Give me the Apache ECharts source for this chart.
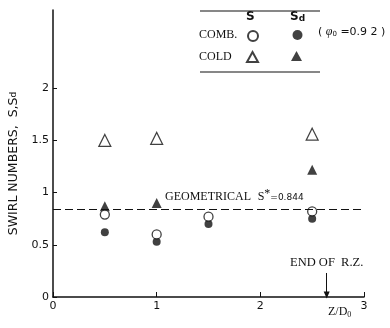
<!DOCTYPE html>
<html>
<head>
<meta charset="utf-8">
<script src="https://cdn.jsdelivr.net/npm/echarts@6/dist/echarts.min.js"></script>
<style>
  html, body { margin: 0; padding: 0; background: #fff; }
  #chart { width: 390px; height: 328px; }
</style>
</head>
<body>
<div id="chart"></div>
<script>
// Z/D0 stations
const zPositions = [0.5, 1, 1.5, 2.5];
const zColdPositions = [0.5, 1, 2.5];

// swirl numbers
const sComb = [0.79, 0.60, 0.77, 0.82];
const sdComb = [0.62, 0.53, 0.70, 0.75];
const sCold = [1.50, 1.52, 1.56];
const sdCold = [0.87, 0.90, 1.22];

const geometricalS = 0.844;
const endOfRZ = 2.64;

const yTicks = [0, 0.5, 1, 1.5, 2];

const pairs = (xs, ys) => xs.map((x, i) => [x, ys[i]]);

const chart = echarts.init(document.getElementById('chart'));

const serif = 'Liberation Serif';
const sans = 'DejaVu Sans';

const option = {
  animation: false,
  grid: { left: 53, right: 26, top: 10, bottom: 31, outerBoundsMode: 'none' },
  xAxis: {
    type: 'value',
    min: 0,
    max: 3,
    interval: 1,
    splitLine: { show: false },
    axisLine: { lineStyle: { color: '#111', width: 1.5 } },
    axisTick: { inside: true, length: 5, lineStyle: { color: '#111' } },
    axisLabel: { color: '#111', fontFamily: sans, fontSize: 11, margin: 4 }
  },
  yAxis: {
    type: 'value',
    min: 0,
    max: 2.75,
    splitLine: { show: false },
    axisLine: { lineStyle: { color: '#111', width: 1.5 } },
    axisTick: { inside: true, length: 4, customValues: yTicks, lineStyle: { color: '#111' } },
    axisLabel: { color: '#111', fontFamily: sans, fontSize: 11, margin: 4, customValues: yTicks },
    name: '{a|SWIRL NUMBERS,  S,S}{b|d}',
    nameLocation: 'middle',
    nameGap: 32,
    nameRotate: 90,
    nameTextStyle: {
      padding: [0, 20, 0, 0],
      rich: {
        a: { fontFamily: sans, fontSize: 12.5, color: '#111' },
        b: { fontFamily: sans, fontSize: 9, color: '#111' }
      }
    }
  },
  legend: [
    { data: ['S comb'], left: 247, top: 30 },
    { data: ['Sd comb'], left: 292, top: 30 },
    { data: ['S cold'], left: 246, top: 51 },
    { data: ['Sd cold'], left: 291, top: 51 }
  ].map(l => Object.assign(l, {
    formatter: () => '',
    itemWidth: 11,
    itemHeight: 10,
    itemGap: 0,
    padding: 0,
    selectedMode: false
  })),
  graphic: [
    { type: 'line', shape: { x1: 200, y1: 11, x2: 320, y2: 11 }, style: { stroke: '#111', lineWidth: 1.2 } },
    { type: 'line', shape: { x1: 200, y1: 72, x2: 320, y2: 72 }, style: { stroke: '#111', lineWidth: 1.2 } },
    { type: 'text', left: 246, top: 11, style: { text: 'S', font: 'bold 12px "DejaVu Sans"', fill: '#111' } },
    {
      type: 'text', left: 290, top: 11,
      style: {
        text: '{a|S}{b|d}',
        rich: {
          a: { font: 'bold 12px "DejaVu Sans"', fill: '#111' },
          b: { font: 'bold 9px "DejaVu Sans"', fill: '#111', padding: [3, 0, 0, 0] }
        }
      }
    },
    { type: 'text', left: 199, top: 29, style: { text: 'COMB.', font: '12px "Liberation Serif"', fill: '#111' } },
    { type: 'text', left: 199, top: 51, style: { text: 'COLD', font: '12px "Liberation Serif"', fill: '#111' } },
    {
      type: 'text', left: 318, top: 26,
      style: {
        text: '{a|( }{p|\u03c6}{s|0}{a| =0.9 2 )}',
        rich: {
          a: { font: '11px "DejaVu Sans"', fill: '#111' },
          p: { font: 'italic 12px "Liberation Serif"', fill: '#111' },
          s: { font: '7px "DejaVu Sans"', fill: '#111', padding: [4, 0, 0, 0] }
        }
      }
    },
    {
      type: 'text', left: 328, top: 306,
      style: {
        text: '{a|Z/D}{b|0}',
        rich: {
          a: { font: '12px "Liberation Serif"', fill: '#111' },
          b: { font: '8px "Liberation Serif"', fill: '#111', padding: [5, 0, 0, 0] }
        }
      }
    }
  ],
  series: [
    {
      name: 'S comb',
      type: 'scatter',
      symbol: 'circle',
      symbolSize: 9,
      itemStyle: { color: '#fff', borderColor: '#111', borderWidth: 1.3 },
      data: pairs(zPositions, sComb),
      z: 3,
      markLine: {
        silent: true,
        symbol: 'none',
        lineStyle: { color: '#111', type: [8, 4], width: 1.2 },
        label: {
          position: 'insideStartTop',
          distance: [112, 3],
          formatter: '{a|GEOMETRICAL}  {a|S}{s|*}{b|=0.844}',
          rich: {
            a: { fontFamily: serif, fontSize: 12, color: '#111' },
            s: { fontFamily: serif, fontSize: 12, color: '#111', verticalAlign: 'top', padding: [0, 0, 6, 0] },
            b: { fontFamily: sans, fontSize: 9, color: '#111' }
          }
        },
        data: [{ yAxis: geometricalS }]
      }
    },
    {
      name: 'Sd comb',
      type: 'scatter',
      symbol: 'circle',
      symbolSize: 8,
      itemStyle: { color: '#111' },
      data: pairs(zPositions, sdComb),
      z: 2,
      markLine: {
        silent: true,
        symbol: ['none', 'triangle'],
        symbolSize: [6, 7],
        symbolRotate: 180,
        lineStyle: { color: '#111', type: 'solid', width: 1 },
        label: {
          position: 'start',
          distance: 4,
          formatter: 'END OF  R.Z.',
          fontFamily: serif,
          fontSize: 12.5,
          color: '#111'
        },
        data: [[{ coord: [endOfRZ, 0.23] }, { coord: [endOfRZ, 0.02] }]]
      }
    },
    {
      name: 'S cold',
      type: 'scatter',
      symbol: 'triangle',
      symbolSize: 12,
      itemStyle: { color: '#fff', borderColor: '#111', borderWidth: 1.2 },
      data: pairs(zColdPositions, sCold)
    },
    {
      name: 'Sd cold',
      type: 'scatter',
      symbol: 'triangle',
      symbolSize: 10,
      itemStyle: { color: '#111' },
      data: pairs(zColdPositions, sdCold)
    }
  ]
};

chart.setOption(option);
</script>
</body>
</html>
